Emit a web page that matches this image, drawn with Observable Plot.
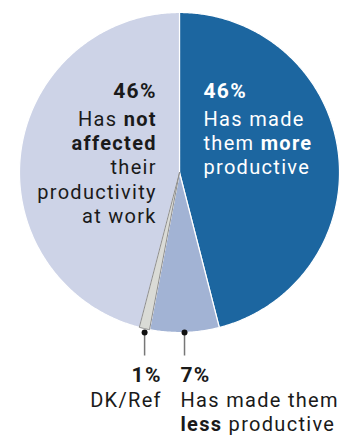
<!DOCTYPE html>
<html>
<head>
<meta charset="utf-8">
<script src="https://cdn.jsdelivr.net/npm/d3@7"></script>
<script src="https://cdn.jsdelivr.net/npm/@observablehq/plot@0.6"></script>
<style>
  html, body { margin: 0; padding: 0; background: #fff; }
  #chart svg { display: block; }
</style>
</head>
<body>
<div id="chart"></div>
<script>
// ---- Data ----
const keys = ["more", "less", "dk", "notAffected"];
const categories = [
  "Has made them more productive",
  "Has made them less productive",
  "DK/Ref",
  "Has not affected their productivity at work"
];
const values = [46, 7, 1, 46];
const colors = ["#1c66a0", "#a2b3d4", "#dadbd6", "#cdd3e7"];

// Label text lines (** marks bold)
const labelMore = ["**46%**", "Has made", "them **more**", "productive"];
const labelNot = ["**46%**", "Has **not**", "**affected**", "their", "productivity", "at work"];
const labelDK = ["**1%**", "DK/Ref"];
const labelLess = ["**7%**", "Has made them", "**less** productive"];

// ---- Layout (pixel geometry of the page) ----
const W = 345, H = 437;
const CX = 179, CY = 172, R = 160;
const ux = px => (px - CX) / R;      // pixel x -> data x
const vy = py => (CY - py) / R;      // pixel y -> data y
const TRACK = 1.3;

// ---- Pie geometry from values ----
const table = keys.map((k, i) => ({key: k, label: categories[i], value: values[i]}));
const arcs = d3.pie().sort(null).value(d => d.value)(table);

const polys = [];
for (const a of arcs) {
  polys.push({key: a.data.key, x: 0, y: 0});
  const n = Math.max(4, Math.ceil((a.endAngle - a.startAngle) / (Math.PI / 360)));
  for (let j = 0; j <= n; j++) {
    const t = a.startAngle + (a.endAngle - a.startAngle) * j / n;
    polys.push({key: a.data.key, x: Math.sin(t), y: Math.cos(t)});
  }
}
const dkPoly = polys.filter(d => d.key === "dk");

const mid = k => { const a = arcs.find(a => a.data.key === k); return (a.startAngle + a.endAngle) / 2; };
const leaders = ["dk", "less"].map(k => ({key: k, x: Math.sin(mid(k)), y: vy(332), y2: vy(355)}));

// ---- Text rows ----
const rows = [];
const addLines = (lines, xpx, baselines, anchor, fill) =>
  lines.forEach((t, i) => rows.push({text: t, x: ux(xpx), y: vy(baselines[i]), anchor, fill, size: i === 0 ? 21 : 20}));
addLines(labelMore, 203, [97, 125, 149, 173], "start", "white");
addLines(labelNot, 155, [97, 125, 149, 173, 198, 222], "end", "#1a1a1a");
addLines(labelDK, 160, [381, 406], "end", "#1a1a1a");
addLines(labelLess, 180, [381, 406, 430], "start", "#1a1a1a");

const font = "Roboto, 'Liberation Sans', sans-serif";
const textMark = anchor => Plot.text(rows.filter(d => d.anchor === anchor), {
  x: "x", y: "y", text: "text", fill: d => d.fill, fontSize: d => d.size,
  textAnchor: anchor, lineAnchor: "bottom", dx: anchor === "end" ? TRACK : 0
});

const plot = Plot.plot({
  width: W,
  height: H,
  margin: 0,
  style: {fontFamily: font, background: "white"},
  x: {domain: [ux(0), ux(W)], axis: null},
  y: {domain: [vy(H), vy(0)], axis: null},
  color: {domain: keys, range: colors},
  marks: [
    Plot.line(polys, {x: "x", y: "y", z: "key", fill: "key", stroke: "white", strokeWidth: 1.2, curve: "linear-closed"}),
    Plot.line(dkPoly, {x: "x", y: "y", fill: "key", stroke: "#8e8e8e", strokeWidth: 1, curve: "linear-closed"}),
    Plot.link(leaders, {x1: "x", x2: "x", y1: "y", y2: "y2", stroke: "#777", strokeWidth: 1.5}),
    Plot.dot(leaders, {x: "x", y: "y", r: 3, fill: "#111", stroke: "none"}),
    textMark("start"),
    textMark("end")
  ]
});

// Bold segments marked with ** become bold tspans; slight tracking to match widths
plot.querySelectorAll("text").forEach(t => {
  t.setAttribute("letter-spacing", TRACK);
  const s = t.textContent;
  if (!s.includes("**")) return;
  while (t.firstChild) t.removeChild(t.firstChild);
  s.split("**").forEach((part, i) => {
    if (!part) return;
    const ts = document.createElementNS("http://www.w3.org/2000/svg", "tspan");
    if (i % 2) ts.setAttribute("font-weight", "bold");
    ts.textContent = part;
    t.appendChild(ts);
  });
});

document.getElementById("chart").appendChild(plot);
</script>
</body>
</html>
